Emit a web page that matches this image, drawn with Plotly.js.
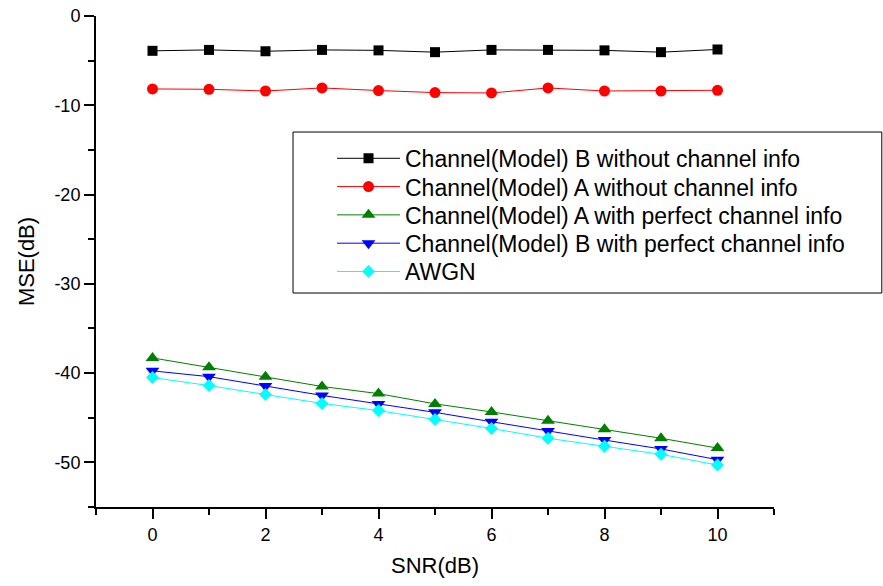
<!DOCTYPE html>
<html>
<head>
<meta charset="utf-8">
<script src="https://cdn.plot.ly/plotly-3.0.1.min.js"></script>
<style>
  html, body { margin: 0; padding: 0; background: #ffffff; }
  #chart { width: 883px; height: 586px; }
</style>
</head>
<body>
<div id="chart"></div>
<script>
// SNR sweep (dB)
const snr = [0, 1, 2, 3, 4, 5, 6, 7, 8, 9, 10];

// MSE (dB) for each scenario
const mseBNoInfo   = [-3.9, -3.8, -3.95, -3.8, -3.85, -4.05, -3.8, -3.8, -3.85, -4.05, -3.75];
const mseANoInfo   = [-8.17, -8.21, -8.4, -8.06, -8.35, -8.58, -8.62, -8.06, -8.4, -8.4, -8.32];
const mseAPerfect  = [-38.3, -39.35, -40.4, -41.5, -42.3, -43.45, -44.35, -45.35, -46.3, -47.3, -48.4];
const mseBPerfect  = [-39.75, -40.4, -41.45, -42.5, -43.45, -44.4, -45.45, -46.5, -47.5, -48.5, -49.7];
const mseAWGN      = [-40.5, -41.4, -42.4, -43.4, -44.2, -45.2, -46.2, -47.3, -48.2, -49.1, -50.3];

const seriesNames = [
  'Channel(Model) B without channel info',
  'Channel(Model) A without channel info',
  'Channel(Model) A with perfect channel info',
  'Channel(Model) B with perfect channel info',
  'AWGN'
];

// Tick labels (plain hyphen minus signs)
const xTickVals = [0, 2, 4, 6, 8, 10];
const xTickText = ['0', '2', '4', '6', '8', '10'];
const yTickVals = [0, -10, -20, -30, -40, -50];
const yTickText = ['0', '-10', '-20', '-30', '-40', '-50'];

const FONT = '"Liberation Sans", Arial, Helvetica, sans-serif';

function series(y, name, color, symbol, size, legendId) {
  return {
    x: snr, y: y, name: name, legend: legendId,
    type: 'scatter', mode: 'lines+markers',
    line: { color: color, width: 1 },
    marker: { color: color, symbol: symbol, size: size, line: { width: 0 } }
  };
}

const traces = [
  series(mseBNoInfo,  seriesNames[0], '#000000', 'square', 10, 'legend'),
  series(mseANoInfo,  seriesNames[1], '#ff0000', 'circle', 11, 'legend2'),
  series(mseAPerfect, seriesNames[2], '#008000', 'triangle-up', 12, 'legend3'),
  series(mseBPerfect, seriesNames[3], '#0000ff', 'triangle-down', 12, 'legend4'),
  series(mseAWGN,     seriesNames[4], '#00ffff', 'diamond', 10, 'legend5')
];

const axisCommon = {
  showline: true, linecolor: '#000000', linewidth: 2,
  showgrid: false, zeroline: false,
  tickmode: 'array',
  ticks: 'outside', ticklen: 10, tickwidth: 2, tickcolor: '#000000',
  tickfont: { family: FONT, size: 18, color: '#000000' },
  mirror: false
};

// One legend box per row so the row pitch can be set exactly
const legendRowY = [0.7539, 0.6963, 0.6387, 0.5810, 0.5234];
function legendRow(y) {
  return {
    x: 0.3481, y: y, xanchor: 'left', yanchor: 'top',
    bgcolor: 'rgba(0,0,0,0)', borderwidth: 0,
    itemwidth: 63,
    font: { family: FONT, size: 23, color: '#000000' }
  };
}

const layout = {
  width: 883, height: 586,
  margin: { l: 96, r: 109, t: 16, b: 79, autoexpand: false },
  paper_bgcolor: '#ffffff', plot_bgcolor: '#ffffff',
  font: { family: FONT, color: '#000000' },
  showlegend: true,
  xaxis: Object.assign({}, axisCommon, {
    range: [-1, 11], tickvals: xTickVals, ticktext: xTickText,
    minor: { tick0: 0, dtick: 1, ticks: 'outside', ticklen: 6, tickwidth: 2, tickcolor: '#000000' },
    title: { text: 'SNR(dB)', font: { family: FONT, size: 22, color: '#000000' }, standoff: 14 }
  }),
  yaxis: Object.assign({}, axisCommon, {
    range: [-55, 0], tickvals: yTickVals, ticktext: yTickText,
    minor: { tick0: 0, dtick: 5, ticks: 'outside', ticklen: 6, tickwidth: 2, tickcolor: '#000000' },
    title: { text: 'MSE(dB)', font: { family: FONT, size: 22, color: '#000000' }, standoff: 14 }
  }),
  legend: legendRow(legendRowY[0]),
  legend2: legendRow(legendRowY[1]),
  legend3: legendRow(legendRowY[2]),
  legend4: legendRow(legendRowY[3]),
  legend5: legendRow(legendRowY[4]),
  shapes: [{
    type: 'rect', xref: 'paper', yref: 'paper', layer: 'below',
    x0: 0.2906, x1: 1.159, y0: 0.4358, y1: 0.7637,
    line: { color: '#000000', width: 1 }, fillcolor: '#ffffff'
  }]
};

Plotly.newPlot('chart', traces, layout, { displayModeBar: false, staticPlot: true });
</script>
</body>
</html>
